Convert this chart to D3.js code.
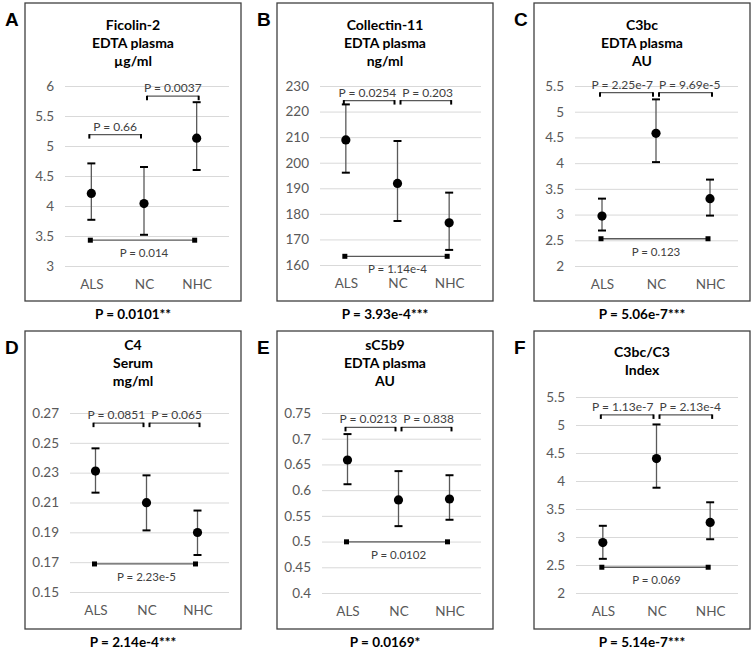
<!DOCTYPE html>
<html>
<head>
<meta charset="utf-8">
<script src="https://cdn.jsdelivr.net/npm/d3@7"></script>
<style>
  body { margin: 0; background: #fff; }
  text { font-family: Lato, "Open Sans", sans-serif; }
</style>
</head>
<body>
<svg width="753" height="651"></svg>
<script>
// ---- data ----
const groups = ["ALS", "NC", "NHC"];
const letters = ["A", "B", "C", "D", "E", "F"];
const titles = [
  ["Ficolin-2", "EDTA plasma", "µg/ml"],
  ["Collectin-11", "EDTA plasma", "ng/ml"],
  ["C3bc", "EDTA plasma", "AU"],
  ["C4", "Serum", "mg/ml"],
  ["sC5b9", "EDTA plasma", "AU"],
  ["C3bc/C3", "Index"]
];
const means = [
  [4.21, 4.04, 5.13],
  [208.9, 191.9, 176.5],
  [2.97, 4.58, 3.31],
  [0.2311, 0.2099, 0.1899],
  [0.6586, 0.581, 0.5828],
  [2.90, 4.40, 3.26]
];
const upperBars = [
  [4.71, 4.65, 5.73],
  [222.8, 208.5, 188.3],
  [3.31, 5.24, 3.68],
  [0.2463, 0.2282, 0.2046],
  [0.709, 0.637, 0.629],
  [3.20, 5.01, 3.62]
];
const lowerBars = [
  [3.77, 3.52, 4.60],
  [196.1, 177.2, 165.9],
  [2.69, 4.02, 2.98],
  [0.2166, 0.1913, 0.1748],
  [0.6115, 0.530, 0.5424],
  [2.61, 3.88, 2.96]
];
const yTicks = [
  [3, 3.5, 4, 4.5, 5, 5.5, 6],
  [160, 170, 180, 190, 200, 210, 220, 230],
  [2, 2.5, 3, 3.5, 4, 4.5, 5, 5.5],
  [0.15, 0.17, 0.19, 0.21, 0.23, 0.25, 0.27],
  [0.4, 0.45, 0.5, 0.55, 0.6, 0.65, 0.7, 0.75],
  [2, 2.5, 3, 3.5, 4, 4.5, 5, 5.5]
];
// [from group, to group, value, label]
const topBrackets = [
  [[0, 1, 5.19, "P = 0.66"], [1, 2, 5.83, "P = 0.0037"]],
  [[0, 1, 224.3, "P = 0.0254"], [1, 2, 224.3, "P = 0.203"]],
  [[0, 1, 5.37, "P = 2.25e-7"], [1, 2, 5.37, "P = 9.69e-5"]],
  [[0, 1, 0.2632, "P = 0.0851"], [1, 2, 0.2632, "P = 0.065"]],
  [[0, 1, 0.722, "P = 0.0213"], [1, 2, 0.722, "P = 0.838"]],
  [[0, 1, 5.18, "P = 1.13e-7"], [1, 2, 5.18, "P = 2.13e-4"]]
];
const bottomValues = [3.43, 163.4, 2.53, 0.1688, 0.4995, 2.46];
const bottomLabels = ["P = 0.014", "P = 1.14e-4", "P = 0.123", "P = 2.23e-5", "P = 0.0102", "P = 0.069"];
const overallP = ["P = 0.0101**", "P = 3.93e-4***", "P = 5.06e-7***", "P = 2.14e-4***", "P = 0.0169*", "P = 5.14e-7***"];

// ---- layout ----
const boxX = [25, 277, 534], boxW = 216;
const boxY = [3, 331], boxH = 298;
const plotLeft = [40, 43, 41, 45, 45, 42];
const bandRight = [18, 18, 13, 18, 18, 13];
const gridTop = [83, 83, 83, 82, 82, 66];
const gridBottom = [263, 262, 263, 261, 262, 262];
const titleTop = [22, 22, 22, 14, 14, 21];

const svg = d3.select("svg");

letters.forEach((letter, i) => {
  const col = i % 3, row = Math.floor(i / 3);
  const bx = boxX[col], by = boxY[row];

  svg.append("text")
    .attr("x", bx - 20).attr("y", by + 23)
    .style("font-family", "'Liberation Sans', Arial, sans-serif")
    .style("font-weight", "bold").style("font-size", "19px")
    .text(letter);

  const g = svg.append("g").attr("transform", `translate(${bx},${by})`);

  g.append("rect")
    .attr("width", boxW).attr("height", boxH)
    .attr("fill", "none").attr("stroke", "#404040").attr("stroke-width", 1.3);

  // title
  g.selectAll(".title").data(titles[i]).enter().append("text")
    .attr("x", boxW / 2)
    .attr("y", (d, k) => titleTop[i] + k * 18)
    .attr("dy", "0.35em")
    .attr("text-anchor", "middle")
    .style("font-weight", "bold").style("font-size", "14px")
    .text(d => d);

  const gridRight = boxW - 12;
  const x = d3.scalePoint().domain(groups).range([plotLeft[i], boxW - bandRight[i]]).padding(0.5);
  const y = d3.scaleLinear().domain(d3.extent(yTicks[i])).range([gridBottom[i], gridTop[i]]);

  // y axis + gridlines
  const yAxis = g.append("g")
    .attr("transform", `translate(${plotLeft[i]},0)`)
    .call(d3.axisLeft(y).tickValues(yTicks[i]).tickFormat(d3.format("~g"))
      .tickSize(-(gridRight - plotLeft[i])).tickPadding(11));
  yAxis.select(".domain").remove();
  yAxis.selectAll("line").attr("stroke", "#d9d9d9");
  yAxis.selectAll("text").attr("fill", "#595959").style("font-size", "13.5px")
    .style("font-family", "Lato, sans-serif");

  // category axis
  const xAxis = g.append("g")
    .attr("transform", `translate(0,${gridBottom[i]})`)
    .call(d3.axisBottom(x).tickSize(0).tickPadding(13));
  xAxis.select(".domain").remove();
  xAxis.selectAll("text").attr("fill", "#595959").style("font-size", "13.5px")
    .style("font-family", "Lato, sans-serif");

  // error bars
  groups.forEach((grp, k) => {
    const cx = x(grp);
    g.append("line")
      .attr("x1", cx).attr("x2", cx)
      .attr("y1", y(lowerBars[i][k])).attr("y2", y(upperBars[i][k]))
      .attr("stroke", "#595959").attr("stroke-width", 1.3);
    [upperBars[i][k], lowerBars[i][k]].forEach(v => {
      g.append("line")
        .attr("x1", cx - 4).attr("x2", cx + 4)
        .attr("y1", y(v)).attr("y2", y(v))
        .attr("stroke", "#000").attr("stroke-width", 2);
    });
    g.append("circle").attr("cx", cx).attr("cy", y(means[i][k])).attr("r", 4.6).attr("fill", "#000");
  });

  // top brackets
  const labels = [];
  topBrackets[i].forEach(([a, b, v, label]) => {
    const x1 = x(groups[a]) + (a === 1 ? 3 : -2);
    const x2 = x(groups[b]) + (b === 1 ? -3 : 2);
    const yy = y(v);
    g.append("line").attr("x1", x1).attr("x2", x2).attr("y1", yy).attr("y2", yy)
      .attr("stroke", "#595959").attr("stroke-width", 1.3);
    [x1, x2].forEach(xx => {
      g.append("line").attr("x1", xx).attr("x2", xx).attr("y1", yy - 0.5).attr("y2", yy + 4)
        .attr("stroke", "#000").attr("stroke-width", 2);
    });
    labels.push(g.append("text")
      .attr("x", (x1 + x2) / 2).attr("y", yy - 4)
      .attr("text-anchor", "middle")
      .attr("fill", "#404040").style("font-size", "12px")
      .text(label));
  });
  // push the two labels apart when they collide
  if (labels.length === 2) {
    const [l1, l2] = labels;
    const w1 = l1.node().getComputedTextLength(), w2 = l2.node().getComputedTextLength();
    const gap = (+l2.attr("x") - w2 / 2) - (+l1.attr("x") + w1 / 2);
    if (gap < 6) {
      const shift = (6 - gap) / 2;
      l1.attr("x", +l1.attr("x") - shift);
      l2.attr("x", +l2.attr("x") + shift);
    }
  }

  // bottom bracket
  const yb = y(bottomValues[i]);
  const bx1 = x(groups[0]) - 1, bx2 = x(groups[2]) - 2;
  g.append("line").attr("x1", bx1).attr("x2", bx2).attr("y1", yb).attr("y2", yb)
    .attr("stroke", "#595959").attr("stroke-width", 1.3);
  [bx1, bx2].forEach(xx => {
    g.append("rect").attr("x", xx - 2.5).attr("y", yb - 2.5).attr("width", 5).attr("height", 5)
      .attr("fill", "#000");
  });
  g.append("text")
    .attr("x", x(groups[1])).attr("y", yb + 17)
    .attr("text-anchor", "middle")
    .attr("fill", "#404040").style("font-size", "11.5px")
    .text(bottomLabels[i]);

  // overall P
  g.append("text")
    .attr("x", boxW / 2).attr("y", boxH + 18)
    .attr("text-anchor", "middle")
    .style("font-weight", "bold").style("font-size", "13.5px")
    .text(overallP[i]);
});
</script>
</body>
</html>
